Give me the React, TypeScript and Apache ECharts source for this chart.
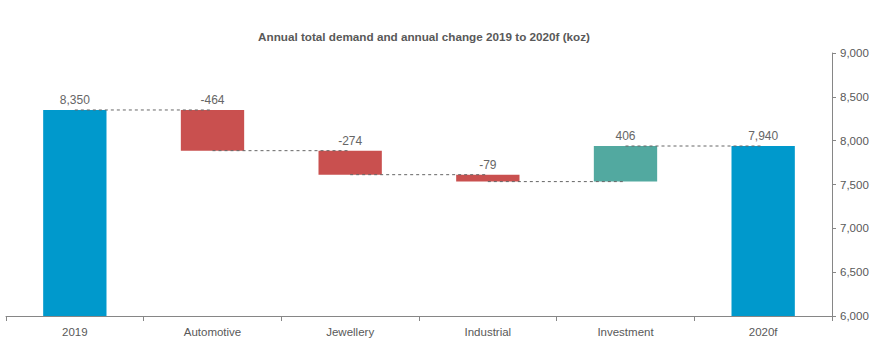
import React, { useEffect, useRef } from "react";
import * as echarts from "echarts";

const categories = ["2019", "Automotive", "Jewellery", "Industrial", "Investment", "2020f"];
const changes = [8350, -464, -274, -79, 406, 7940];
const isTotal = [true, false, false, false, false, true];
const yTicks = { min: 6000, max: 9000, interval: 500 };

const COLORS = { total: "#0099CC", down: "#C9504F", up: "#52A9A0" };

export default function App() {
  const ref = useRef<HTMLDivElement>(null);
  useEffect(() => {
    if (!ref.current) return;
    const chart = echarts.init(ref.current, undefined, { renderer: "svg" });

    const base: number[] = [];
    const visible: number[] = [];
    const levels: number[] = [];
    let running = 0;
    changes.forEach((v, i) => {
      if (isTotal[i]) {
        base.push(0);
        visible.push(v);
        running = v;
      } else {
        const next = running + v;
        base.push(Math.min(running, next));
        visible.push(Math.abs(v));
        running = next;
      }
      levels.push(running);
    });
    // connector from center i to center i+1 at the running level after i
    const connData = levels.slice(0, -1).map((lv, i) => [i, lv]);

    const fmt = (n: number) => n.toLocaleString("en-US");

    chart.setOption({
      animation: false,
      title: {
        text: "Annual total demand and annual change 2019 to 2020f (koz)",
        left: 419,
        textAlign: "center",
        top: 25,
        textStyle: { fontSize: 11.7, fontWeight: "bold", color: "#595959", fontFamily: "Liberation Sans" },
      },
      grid: { left: 6, right: 46, top: 53, bottom: 42, containLabel: false },
      xAxis: {
        type: "category",
        data: categories,
        axisLine: { lineStyle: { color: "#868686" } },
        axisTick: { show: true, length: 5, lineStyle: { color: "#868686" } },
        axisLabel: { color: "#595959", fontSize: 11.5, fontFamily: "Liberation Sans", margin: 10 },
      },
      yAxis: {
        type: "value",
        position: "right",
        min: yTicks.min,
        max: yTicks.max,
        interval: yTicks.interval,
        splitLine: { show: false },
        axisLine: { show: true, lineStyle: { color: "#868686" } },
        axisTick: { show: true, length: 4, lineStyle: { color: "#868686" } },
        axisLabel: {
          color: "#595959",
          fontSize: 11.5,
          fontFamily: "Liberation Sans",
          margin: 8,
          formatter: (v: number) => fmt(v),
        },
      },
      series: [
        {
          type: "bar",
          stack: "w",
          data: base,
          barWidth: "46%",
          itemStyle: { color: "transparent" },
          silent: true,
        },
        {
          type: "bar",
          stack: "w",
          barWidth: "46%",
          data: visible.map((v, i) => ({
            value: v,
            itemStyle: {
              color: isTotal[i] ? COLORS.total : changes[i] < 0 ? COLORS.down : COLORS.up,
            },
          })),
          label: {
            show: true,
            position: "top",
            distance: 4,
            color: "#666666",
            fontSize: 12,
            fontFamily: "Liberation Sans",
            formatter: (p: any) => fmt(changes[p.dataIndex]),
          },
        },
        {
          type: "custom",
          data: connData,
          z: 5,
          renderItem: (params: any, api: any) => {
            const i = api.value(0);
            const lv = api.value(1);
            const p1 = api.coord([i, lv]);
            const p2 = api.coord([i + 1, lv]);
            return {
              type: "line",
              shape: { x1: p1[0], y1: p1[1], x2: p2[0], y2: p2[1] },
              style: { stroke: "#666666", lineWidth: 1, lineDash: [3, 3] },
            };
          },
        },
      ],
    });
    return () => chart.dispose();
  }, []);
  return (
    <div
      ref={ref}
      style={{ position: "absolute", left: 0, top: 0, width: 878, height: 358 }}
    />
  );
}
